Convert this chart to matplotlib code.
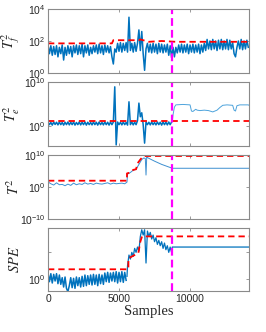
import numpy as np
import matplotlib
matplotlib.use("Agg")
import matplotlib.pyplot as plt

plt.rcParams['mathtext.fontset'] = 'custom'
plt.rcParams['mathtext.rm'] = 'Liberation Sans'
plt.rcParams['mathtext.it'] = 'Liberation Sans:italic'
plt.rcParams['font.family'] = ['Liberation Sans', 'DejaVu Sans']

# ---------------- data (log10 of statistic values) ----------------
fault_sample = 8750
x_max = 14150
step_x = np.arange(0, 14200, 100)  # sample index of the listed values

# Panel 1: T_f^2
tf_vals = [1.75, 1.2, 1.7, 1.1, 1.65, 1.15, 1.7, 1.0, 1.6, 1.2, 1.75, 0.8, 1.6, 1.1, 1.7, 1.2,
           1.65, 1.0, 1.7, 1.25, 1.75, 1.15, 1.7, 1.2, 1.8, 1.0, 1.7, 1.25, 1.75, 1.1, 1.6, 1.2,
           1.7, 1.3, 1.75, 1.2, 1.8, 1.25, 1.7, 1.15, 1.75, 1.3, 1.7, 1.25, 1.65, 1.0, 0.55, 1.5,
           1.3, 1.85, 1.35, 1.9, 1.3, 1.85, 1.4, 1.9, 1.3, 3.5, 1.4, 1.85, 1.3, 1.9, 1.35, 1.85,
           2.7, 1.4, 2.6, 1.2, 0.15, 1.5, 1.85, 1.3, 1.8, 1.25, 1.85, 1.3, 1.8, 1.2, 1.85, 1.3,
           1.8, 1.25, 1.75, 1.3, 1.8, 1.1, 1.7, 0.95, 1.6, 1.0, 1.6, 1.25, 1.75, 1.3, 1.8, 1.25,
           1.75, 1.3, 1.8, 1.2, 1.75, 1.3, 1.8, 1.25, 1.75, 1.3, 1.8, 1.2, 1.75, 1.3, 1.85, 1.4,
           2.1, 1.5, 2.0, 1.45, 2.1, 1.5, 2.0, 1.4, 2.05, 1.5, 2.1, 1.45, 2.0, 1.5, 2.1, 1.45,
           2.05, 1.5, 1.9, 1.2, 1.0, 1.6, 2.0, 1.5, 2.1, 1.45, 2.0, 1.5, 2.05, 1.6]
tf_lim_x = [0, 4500, 4600, 6400, 6500, 7100, 8000, 9000, 14150]
tf_lim_v = [1.85, 1.85, 2.05, 2.05, 2.1, 1.95, 2.0, 1.95, 1.95]

# Panel 2: T_e^2
te_pre_vals = [0.9, 0.3, 0.8, 0.2, 0.9, 0.35, 0.85, 0.25, 0.9, 0.3, 0.8, 0.2, 0.85, 0.3, 0.9, 0.25,
               0.85, 0.3, 0.9, 0.2, 0.8, 0.3, 0.9, 0.25, 0.85, 0.3, 0.9, 0.2, 0.85, 0.3, 0.8, 0.25,
               0.9, 0.3, 0.85, 0.2, 0.9, 0.3, 0.8, 0.25, 0.9, 0.3, 0.85, 0.2, 0.9, 0.3, 0.9, 8.9,
               -4.3, 0.9, 0.3, 0.85, 0.25, 0.9, 0.3, 0.8, 0.2, 5.5, 0.3, 0.9, 0.25, 0.85, 0.3, 1.2,
               5.2, 2.1, 3.0, 0.3, -3.9, 0.9, 0.3, 0.85, 0.25, 0.9, 0.3, 0.8, 0.25, 0.9, 0.3, 0.85,
               0.2, 0.9, 0.3, 0.85, 0.25, 0.9, 0.3, 0.9]
te_post_x = [8750, 8800, 8900, 9000, 9500, 10000, 10100, 10200, 10400, 10500, 10700, 11000, 11300,
             11600, 11900, 12100, 12300, 12600, 13000, 13100, 13200, 13300, 13500, 14100, 14150]
te_post_v = [1.0, 2.5, 4.3, 4.8, 4.9, 4.8, 3.4, 3.3, 3.8, 3.6, 3.5, 3.6, 3.5,
             3.2, 3.6, 4.2, 4.7, 4.8, 4.7, 3.6, 3.4, 4.6, 4.8, 4.8, 4.7]
te_lim_x = [0, 14150]
te_lim_v = [1.2, 1.2]

# Panel 3: T^2
t2_x = [0, 30, 200, 400, 600, 800, 1000, 1200, 1400, 1600, 1800, 2000, 2200, 2400, 2600, 2800,
        3000, 3200, 3400, 3600, 3800, 4000, 4200, 4400, 4600, 4800, 5000, 5200, 5400, 5560,
        5600, 5800, 6000, 6200, 6400, 6600, 6750, 6850, 6900, 6950, 7000, 7500, 8000, 8750, 14150]
t2_v = [-5.0, 1.5, 1.0, 0.6, 1.3, 0.7, 0.8, 0.4, 0.9, 0.5, 1.2, 0.7, 1.0, 0.8, 1.3, 0.9,
        1.1, 0.8, 1.2, 1.0, 0.9, 1.1, 1.3, 0.9, 1.2, 1.0, 1.1, 1.2, 1.0, 1.5,
        4.0, 4.5, 5.2, 5.5, 7.0, 8.5, 9.0, 8.8, 3.7, 9.2, 9.1, 8.0, 7.0, 5.8, 5.8]
t2_lim_x = [0, 5560, 5560, 5800, 6000, 6200, 6300, 6500, 6700, 6900, 14150]
t2_lim_v = [1.95, 1.95, 4.2, 4.5, 5.3, 5.5, 7.3, 8.5, 9.5, 9.6, 9.6]

# Panel 4: SPE
spe_pre_vals = [0.45, -0.2, 0.4, -0.3, 0.35, -0.15, 0.4, -0.35, 0.3, -0.4, 0.1, -0.6, 0.15, -0.7,
                -0.95, -0.5, 0.1, -0.65, 0.05, -0.7, 0.15, -0.5, 0.1, -0.6, 0.2, -0.55, 0.3, -0.5,
                0.25, -0.4, 0.3, -0.45, 0.35, -0.4, 0.3, -0.5, 0.35, -0.35, 0.3, -0.4, 0.45, -0.2,
                0.5, -0.25, 0.45, -0.15, 0.5, -0.2, 0.55, -0.3, 0.5, -0.2, 0.55, -0.25, 0.5, -0.1]
spe_post_x = [5560, 5600, 5700, 5800, 5900, 6000, 6100, 6200, 6300, 6400, 6500, 6600, 6700, 6800,
              6900, 7000, 7100, 7200, 7300, 7400, 7500, 7600, 7700, 7800, 7900, 8000, 8100, 8200,
              8300, 8400, 8500, 8600, 8700, 8750, 14150]
spe_post_v = [0.2, 1.0, 1.8, 1.5, 2.0, 1.7, 2.3, 2.0, 2.4, 2.1, 3.2, 3.7, 3.3, 3.7,
              1.2, 3.6, 3.2, 3.5, 3.0, 3.3, 2.8, 3.1, 2.6, 2.9, 2.5, 2.8, 2.3, 2.7,
              2.2, 2.5, 2.0, 2.4, 2.0, 2.4, 2.4]
spe_lim_x = [0, 5660, 5660, 6360, 6500, 6620, 14150]
spe_lim_v = [0.73, 0.73, 1.55, 1.95, 2.8, 3.2, 3.2]

# ---------------- figure ----------------
W, H = 266, 332
fig = plt.figure(figsize=(W / 100, H / 100), dpi=100)

BLUE = '#0072BD'
RED = '#FF0000'
MAG = '#FF00FF'
EDGE = '#8a8a8a'

left = 48 / W
width = (249 - 48) / W
panels = [(9.3, 72.7), (82, 146), (154.7, 219.3), (228, 291)]
axes = []
for top, bot in panels:
    ax = fig.add_axes([left, 1 - bot / H, width, (bot - top) / H])
    axes.append(ax)

def style(ax, ylim, yticks, ylabels, ylab, show_x):
    ax.set_yscale('log')
    ax.set_xlim(0, x_max)
    ax.set_ylim(10.0 ** ylim[0], 10.0 ** ylim[1])
    ax.set_yticks([10.0 ** t for t in yticks])
    ax.set_yticklabels(ylabels)
    ax.minorticks_off()
    ax.set_xticks([0, 5000, 10000])
    if not show_x:
        ax.set_xticklabels([])
    ax.tick_params(direction='in', length=2.5, width=0.6, colors=EDGE,
                   labelcolor='#262626', labelsize=7.5, pad=2,
                   right=True, top=True)
    for s in ax.spines.values():
        s.set_color(EDGE)
        s.set_linewidth(0.8)
    ax.set_ylabel(ylab, fontsize=10.5, math_fontfamily='stix', color='#262626')
    ax.yaxis.set_label_coords(-26 / 201, 0.5)

dash_red = (0, (3.5, 2.2))
dash_mag = (0, (3.5, 1.8))
BAND_LW = 1.1

# Panel 1
ax = axes[0]
ax.plot(step_x, 10.0 ** np.array(tf_vals), color=BLUE, lw=BAND_LW)
ax.plot(tf_lim_x, 10.0 ** np.array(tf_lim_v), color=RED, lw=1.3, ls=dash_red)
style(ax, (0, 4), [0, 2, 4], ['$10^{0}$', '$10^{2}$', '$10^{4}$'], '$T_f^2$', False)

# Panel 2
ax = axes[1]
ax.plot(step_x[:len(te_pre_vals)], 10.0 ** np.array(te_pre_vals), color=BLUE, lw=BAND_LW)
ax.plot(te_post_x, 10.0 ** np.array(te_post_v), color='#4da3dc', lw=0.7)
ax.plot(te_lim_x, 10.0 ** np.array(te_lim_v), color=RED, lw=1.3, ls=dash_red)
style(ax, (-4.55, 10), [0, 10], ['$10^{0}$', '$10^{10}$'], '$T_e^2$', False)

# Panel 3
ax = axes[2]
ax.plot(t2_x, 10.0 ** np.array(t2_v), color='#3d8fd0', lw=0.7)
ax.plot(t2_lim_x, 10.0 ** np.array(t2_lim_v), color=RED, lw=1.3, ls=dash_red)
style(ax, (-10, 10), [-10, 0, 10], ['$10^{-10}$', '$10^{0}$', '$10^{10}$'], '$T^2$', False)

# Panel 4
ax = axes[3]
ax.plot(step_x[:len(spe_pre_vals)], 10.0 ** np.array(spe_pre_vals), color=BLUE, lw=BAND_LW)
ax.plot(spe_post_x, 10.0 ** np.array(spe_post_v), color=BLUE, lw=0.9)
ax.plot(spe_lim_x, 10.0 ** np.array(spe_lim_v), color=RED, lw=1.3, ls=dash_red)
style(ax, (-0.9, 3.83), [0, 2], ['$10^{0}$', ''], '$SPE$', True)
ax.set_xticklabels(['0', '5000', '10000'])
ax.set_xlabel('Samples', fontsize=10.5, family='Liberation Serif', color='#262626', labelpad=1)

for ax in axes:
    ax.axvline(fault_sample, color=MAG, lw=1.6, ls=dash_mag)

fig.savefig('out.png', dpi=100)
